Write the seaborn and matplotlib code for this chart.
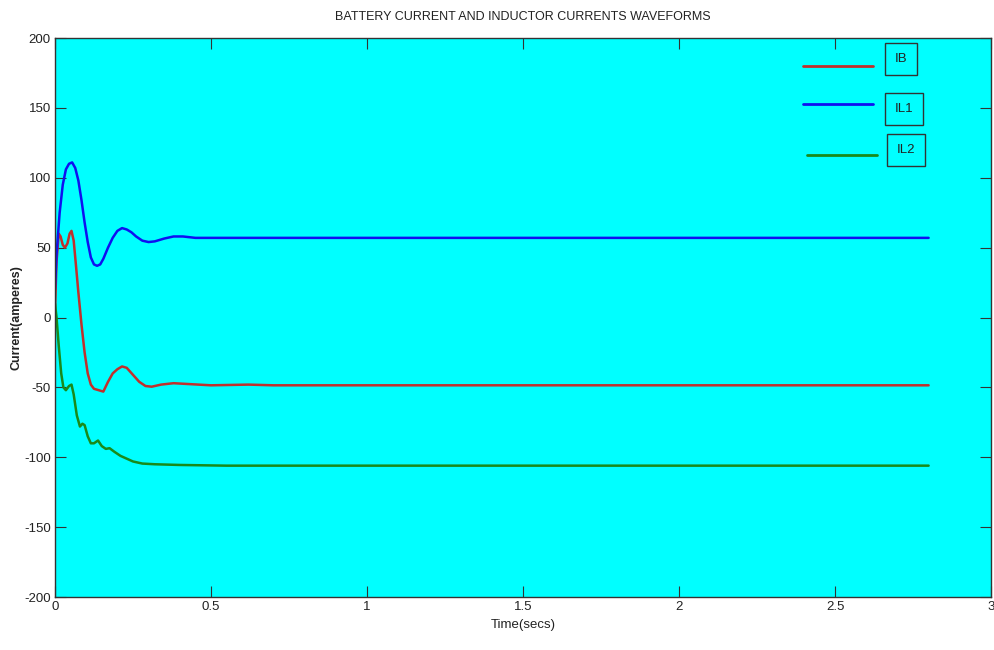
import numpy as np
import pandas as pd
import seaborn as sns
import matplotlib
matplotlib.use("Agg")
import matplotlib.pyplot as plt
from matplotlib.lines import Line2D
from matplotlib import font_manager

# battery current IB
t_ib = [0.0, 0.005, 0.012, 0.018, 0.025, 0.032, 0.04, 0.047, 0.053, 0.06, 0.067, 0.075,
        0.085, 0.095, 0.105, 0.115, 0.125, 0.14, 0.155, 0.17, 0.185, 0.2, 0.215, 0.23,
        0.25, 0.27, 0.29, 0.31, 0.34, 0.38, 0.42, 0.5, 0.62, 0.7, 2.8]
ib = [5, 40, 60, 58, 52, 50, 53, 60, 62, 55, 38, 18,
      -5, -25, -40, -48, -51, -52, -53, -46, -40, -37, -35, -36,
      -41, -46, -49, -49.5, -48, -47, -47.5, -48.5, -48, -48.5, -48.5]

# inductor current IL1
t_il1 = [0.0, 0.005, 0.015, 0.025, 0.035, 0.045, 0.055, 0.065, 0.075, 0.085, 0.095, 0.105,
         0.115, 0.125, 0.135, 0.145, 0.155, 0.17, 0.185, 0.2, 0.215, 0.23, 0.245, 0.26,
         0.28, 0.3, 0.32, 0.35, 0.38, 0.41, 0.45, 0.5, 2.8]
il1 = [20, 45, 75, 95, 106, 110, 111, 107, 98, 84, 68, 54,
       43, 38, 37, 38, 42, 50, 57, 62, 64, 63, 61, 58,
       55, 54, 54.5, 56.5, 58, 58, 57, 57, 57]

# inductor current IL2
t_il2 = [0.0, 0.005, 0.012, 0.02, 0.027, 0.035, 0.045, 0.053, 0.06, 0.07, 0.08, 0.088,
         0.095, 0.105, 0.115, 0.125, 0.138, 0.15, 0.163, 0.175, 0.19, 0.21, 0.23, 0.25,
         0.28, 0.32, 0.4, 0.55, 2.8]
il2 = [10, 0, -20, -40, -50, -52, -49, -48, -55, -70, -78, -76,
       -77, -85, -90, -90, -88, -92, -94, -93.5, -96, -99, -101, -103,
       -104.5, -105, -105.5, -106, -106]

sns.set_style("ticks")
names = {f.name for f in font_manager.fontManager.ttflist}
narrow = [n for n in ["Liberation Sans Narrow", "DejaVu Sans Condensed", "Liberation Sans"] if n in names]
narrow.append("DejaVu Sans")
plt.rcParams["font.family"] = narrow
plt.rcParams["axes.unicode_minus"] = False

fig = plt.figure(figsize=(9.94, 6.5), dpi=100)
ax = fig.add_axes([0.0553, 0.0815, 0.9417, 0.86])
ax.set_facecolor("#00FFFF")

series = [(t_ib, ib, "#c0302c"), (t_il1, il1, "#1010f0"), (t_il2, il2, "#1a8a1a")]
for tt, vv, col in series:
    df = pd.DataFrame({"t": tt, "v": vv})
    sns.lineplot(data=df, x="t", y="v", ax=ax, color=col, lw=1.8, sort=False, estimator=None)

ax.set_xlim(0, 3)
ax.set_ylim(-200, 200)
ax.set_xticks([0, 0.5, 1, 1.5, 2, 2.5, 3])
ax.set_xticklabels(["0", "0.5", "1", "1.5", "2", "2.5", "3"])
ax.set_yticks(range(-200, 201, 50))
ax.tick_params(direction="in", top=True, right=True, length=8, width=0.8, pad=3,
               labelsize=9.5, colors="#333333", labelcolor="#222222")
for s in ax.spines.values():
    s.set_color("#333333")
    s.set_linewidth(1.0)

ax.set_title("BATTERY CURRENT AND INDUCTOR CURRENTS WAVEFORMS", fontsize=9, color="#222222", pad=13)
ax.set_xlabel("Time(secs)", fontsize=9.5, color="#222222", labelpad=4)
ax.set_ylabel("Current(amperes)", fontsize=9, color="#222222", fontweight="bold",
              family=["Liberation Sans", "DejaVu Sans"])
ax.yaxis.set_label_coords(-0.035, 0.5)

# boxed labels in the upper right
keys = [("IB", "#c0302c", 0.799, 0.874, 0.950, 0.904, 0.962),
        ("IL1", "#1010f0", 0.799, 0.874, 0.882, 0.907, 0.873),
        ("IL2", "#1a8a1a", 0.803, 0.878, 0.791, 0.909, 0.800)]
for lab, col, x0, x1, ly, tx, ty in keys:
    ax.add_line(Line2D([x0, x1], [ly, ly], transform=ax.transAxes, color=col, lw=2))
    ax.text(tx, ty, lab, transform=ax.transAxes, ha="center", va="center", fontsize=9.5,
            color="#222222",
            bbox=dict(boxstyle="square,pad=0.75", fc="none", ec="#333333", lw=1))

fig.savefig("out.png", dpi=100)
